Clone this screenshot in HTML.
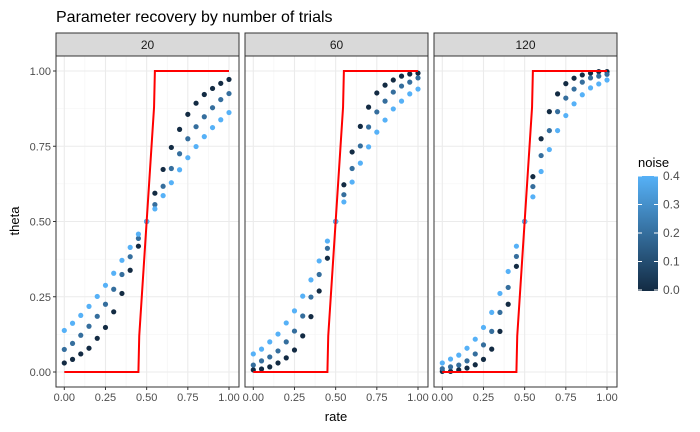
<!DOCTYPE html>
<html><head><meta charset="utf-8"><style>
body{margin:0;background:#fff;}
svg{display:block;font-family:"Liberation Sans",Arial,sans-serif;}
</style></head><body>
<svg id="c" width="700" height="432">
<defs><linearGradient id="g" x1="0" y1="1" x2="0" y2="0"><stop offset="0" stop-color="#132B43"/><stop offset="1" stop-color="#56B1F7"/></linearGradient></defs>
<text x="56" y="22" font-size="16" fill="#000">Parameter recovery by number of trials</text>
<text x="336" y="421" font-size="13" text-anchor="middle" fill="#000">rate</text>
<text transform="translate(19,221) rotate(-90)" font-size="13" text-anchor="middle" fill="#000">theta</text>
<g>
<text x="638" y="167" font-size="13">noise</text>
<rect x="638" y="176" width="20" height="115" fill="url(#g)"/>
<g id="leg"></g>
</g>
<g id="panels"></g>
</svg>
<script>
const facets=["20","60","120"];
const rates=[0,0.05,0.1,0.15,0.2,0.25,0.3,0.35,0.4,0.45,0.5,0.55,0.6,0.65,0.7,0.75,0.8,0.85,0.9,0.95,1];
const noiseLevels=[0,0.2,0.4];
const p20dark=[0.03,0.042,0.06,0.079,0.112,0.148,0.2,0.261,0.338,0.418,0.5,0.594,0.673,0.746,0.806,0.856,0.893,0.922,0.942,0.959,0.972];
const p20mid=[0.075,0.095,0.122,0.152,0.185,0.225,0.275,0.324,0.383,0.444,0.5,0.556,0.617,0.676,0.725,0.775,0.815,0.848,0.878,0.905,0.925];
const p20light=[0.138,0.162,0.188,0.218,0.251,0.288,0.328,0.371,0.414,0.458,0.5,0.542,0.586,0.629,0.672,0.712,0.749,0.782,0.812,0.838,0.862];
const p60dark=[0.007,0.01,0.017,0.03,0.047,0.073,0.12,0.184,0.269,0.378,0.5,0.622,0.731,0.816,0.88,0.927,0.953,0.97,0.983,0.99,0.993];
const p60mid=[0.023,0.037,0.05,0.07,0.1,0.136,0.186,0.249,0.324,0.411,0.5,0.589,0.676,0.751,0.814,0.864,0.9,0.93,0.95,0.963,0.977];
const p60light=[0.06,0.076,0.1,0.126,0.163,0.203,0.252,0.306,0.369,0.435,0.5,0.565,0.631,0.694,0.748,0.797,0.837,0.874,0.9,0.924,0.94];
const p120dark=[0.002,0.002,0.007,0.013,0.024,0.042,0.076,0.135,0.225,0.351,0.5,0.649,0.775,0.865,0.924,0.958,0.976,0.987,0.993,0.998,0.998];
const p120mid=[0.011,0.017,0.023,0.037,0.06,0.09,0.135,0.198,0.281,0.384,0.5,0.616,0.719,0.802,0.865,0.91,0.94,0.963,0.977,0.983,0.989];
const p120light=[0.03,0.043,0.056,0.079,0.109,0.148,0.198,0.261,0.334,0.418,0.5,0.582,0.666,0.739,0.802,0.852,0.891,0.921,0.944,0.957,0.97];
const trueX=[0,0.45,0.455,0.545,0.55,1];
const trueY=[0,0,0.12,0.88,1,1];
const ticks=[0,0.25,0.5,0.75,1];
const xTickLabels=["0.00","0.25","0.50","0.75","1.00"];
const yTickLabels=["0.00","0.25","0.50","0.75","1.00"];
const legendTicks=[0,0.1,0.2,0.3,0.4];
const series=[[p20dark,p20mid,p20light],[p60dark,p60mid,p60light],[p120dark,p120mid,p120light]];

const NS="http://www.w3.org/2000/svg";
function mk(t,a,p){const e=document.createElementNS(NS,t);for(const k in a)e.setAttribute(k,a[k]);p.appendChild(e);return e;}
const panelLefts=[56,245,434],PW=183,PT=56,PB=387;
const yS=v=>372-v*301;
function col(n){const t=n/0.4;const a=[0x13,0x2B,0x43],b=[0x56,0xB1,0xF7];return "rgb("+a.map((v,i)=>Math.round(v+(b[i]-v)*t)).join(",")+")";}
const root=document.getElementById('panels');
facets.forEach((f,pi)=>{
  const L=panelLefts[pi];const xS=v=>L+8.3+v*164.7;
  const g=mk('g',{},root);
  
  
  mk('rect',{x:L,y:PT,width:PW,height:PB-PT,fill:'#fff'},g);
  [0.125,0.375,0.625,0.875].forEach(v=>{mk('line',{x1:xS(v),x2:xS(v),y1:PT,y2:PB,stroke:'#f3f3f3','stroke-width':0.6},g);mk('line',{x1:L,x2:L+PW,y1:yS(v),y2:yS(v),stroke:'#f3f3f3','stroke-width':0.6},g);});
  ticks.forEach((v,i)=>{
    mk('line',{x1:xS(v),x2:xS(v),y1:PT,y2:PB,stroke:'#ebebeb','stroke-width':1.1},g);
    mk('line',{x1:L,x2:L+PW,y1:yS(v),y2:yS(v),stroke:'#ebebeb','stroke-width':1.1},g);
    mk('line',{x1:xS(v),x2:xS(v),y1:PB,y2:PB+3,stroke:'#333'},g);
    const t=mk('text',{x:xS(v),y:PB+14,'font-size':11,'text-anchor':'middle',fill:'#4d4d4d'},g);t.textContent=xTickLabels[i];
    
    
    if(pi===0){mk('line',{x1:L-3,x2:L,y1:yS(v),y2:yS(v),stroke:'#333'},g);
      const yt=mk('text',{x:L-5,y:yS(v)+4,'font-size':11,'text-anchor':'end',fill:'#4d4d4d'},g);yt.textContent=yTickLabels[i];
      
      }
  });
  series[pi].forEach((arr,si)=>{arr.forEach((v,ri)=>{
    const c=mk('circle',{cx:xS(rates[ri]),cy:yS(v),r:2.6,fill:col(noiseLevels[si])},g);
    
    
  });});
  const ln=mk('polyline',{points:trueX.map((x,i)=>xS(x)+','+yS(trueY[i])).join(' '),fill:'none',stroke:'#ff0000','stroke-width':2},g);
  
  
  mk('rect',{x:L,y:PT,width:PW,height:PB-PT,fill:'none',stroke:'#333','stroke-width':1},g);
  const s=mk('rect',{x:L,y:33,width:PW,height:23,fill:'#d9d9d9',stroke:'#333','stroke-width':1},g);
  
  
  const st=mk('text',{x:L+PW/2,y:49,'font-size':12,'text-anchor':'middle',fill:'#1a1a1a'},g);st.textContent=f;
  
  
});
const leg=document.getElementById('leg');
legendTicks.forEach(v=>{const y=290-v/0.4*114;
  mk('line',{x1:638,x2:642,y1:y,y2:y,stroke:'#fff'},leg);mk('line',{x1:654,x2:658,y1:y,y2:y,stroke:'#fff'},leg);
  const t=mk('text',{x:663,y:y+4,'font-size':12,fill:'#4d4d4d'},leg);t.textContent=v.toFixed(1);
  
  
});
</script>
</body></html>
